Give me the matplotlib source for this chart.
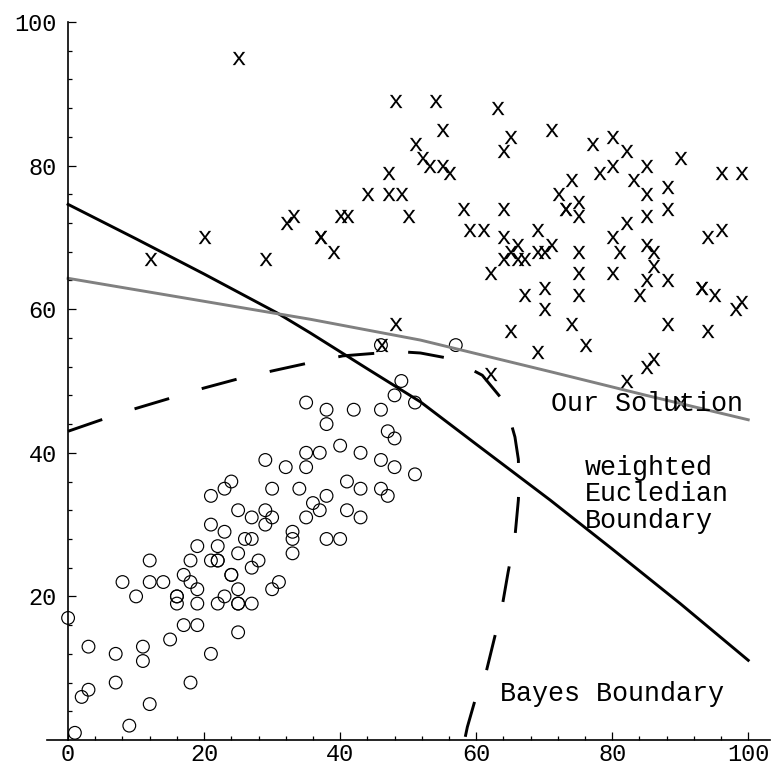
import numpy as np
import matplotlib
matplotlib.use("Agg")
import matplotlib.pyplot as plt
from matplotlib.textpath import TextPath
from matplotlib.font_manager import FontProperties
from matplotlib.path import Path

MONO = "Liberation Mono"

# class 1 samples (drawn as o)
class_o_x = [0, 1, 2, 3, 3, 7, 7, 8, 9, 10, 11, 11, 12, 12, 12, 14, 15, 16, 16, 16,
             17, 17, 18, 18, 18, 19, 19, 19, 19, 21, 21, 21, 21, 22, 22, 22, 22, 23, 23, 23,
             24, 24, 24, 25, 25, 25, 25, 25, 25, 26, 27, 27, 27, 27, 28, 29, 29, 29, 30, 30,
             30, 31, 32, 33, 33, 33, 34, 35, 35, 35, 35, 36, 37, 37, 38, 38, 38, 38, 40, 40,
             41, 41, 42, 43, 43, 43, 46, 46, 46, 46, 47, 47, 48, 48, 48, 49, 51, 51, 57]
class_o_y = [17, 1, 6, 7, 13, 8, 12, 22, 2, 20, 11, 13, 5, 22, 25, 22, 14, 19, 20, 20,
             16, 23, 8, 22, 25, 16, 19, 21, 27, 12, 25, 30, 34, 19, 25, 25, 27, 20, 29, 35,
             23, 23, 36, 15, 19, 19, 21, 26, 32, 28, 19, 24, 28, 31, 25, 30, 32, 39, 21, 31,
             35, 22, 38, 26, 28, 29, 35, 31, 38, 40, 47, 33, 32, 40, 28, 34, 44, 46, 28, 41,
             32, 36, 46, 31, 35, 40, 35, 39, 46, 55, 34, 43, 38, 42, 48, 50, 37, 47, 55]

# class 2 samples (drawn as x)
class_x_x = [25, 12, 20, 29, 32, 33, 37, 37, 39, 40, 41, 44, 47, 49, 47, 48, 54, 63, 55, 71,
             65, 64, 51, 52, 53, 55, 56, 50, 58, 64, 59, 61, 64, 69, 66, 71, 65, 69, 70, 64,
             66, 67, 62, 70, 67, 70, 48, 65, 69, 62, 46, 77, 80, 82, 90, 78, 80, 85, 74, 83,
             96, 99, 72, 85, 88, 73, 73, 75, 75, 88, 85, 82, 94, 96, 80, 75, 81, 85, 86, 86,
             75, 80, 85, 88, 84, 75, 93, 93, 95, 98, 99, 74, 88, 94, 76, 85, 86, 82, 90]
class_x_y = [95, 67, 70, 67, 72, 73, 70, 70, 68, 73, 73, 76, 76, 76, 79, 89, 89, 88, 85, 85,
             84, 82, 83, 81, 80, 80, 79, 73, 74, 74, 71, 71, 70, 71, 69, 69, 68, 68, 68, 67,
             67, 67, 65, 63, 62, 60, 58, 57, 54, 51, 55, 83, 84, 82, 81, 79, 80, 80, 78, 78,
             79, 79, 76, 76, 77, 74, 74, 75, 73, 74, 73, 72, 70, 71, 70, 68, 68, 69, 68, 66,
             65, 65, 64, 64, 62, 62, 63, 63, 62, 60, 61, 58, 58, 57, 55, 52, 53, 50, 47]

# decision boundaries
euclid_x = [0, 10, 20, 30.7, 35.6, 44, 51.8, 60, 70.9, 80, 90, 100]
euclid_y = [74.6, 69.8, 64.9, 59.5, 56.7, 51.7, 47.1, 41.2, 33.4, 26.6, 19.0, 11.1]

ours_x = [0, 10, 20, 35.6, 51.8, 70.9, 85, 100]
ours_y = [64.3, 62.7, 61.1, 58.6, 55.7, 51.3, 48.0, 44.6]

bayes_x = [0, 4.9, 9.7, 15, 19.9, 25, 30, 35.3, 40.4, 45.7, 48.5, 51.8, 56.3, 60.9, 64.3,
           65.7, 66.2, 66.3, 66.2, 65.7, 64.7, 63.8, 61.5, 60, 58.7, 58.3]
bayes_y = [43, 44.6, 46.1, 47.6, 49, 50.3, 51.4, 52.5, 53.5, 53.9, 54.1, 53.9, 53.1, 50.8, 46.9,
           42.2, 39.1, 35.5, 33.4, 28.3, 23.4, 18.5, 9.6, 6.1, 1.8, 0]


def glyph_marker(ch):
    # turn a typewriter glyph into a centred marker path
    tp = TextPath((0, 0), ch, size=10, prop=FontProperties(family=MONO))
    v = tp.vertices.copy()
    lo, hi = v.min(axis=0), v.max(axis=0)
    v -= (lo + hi) / 2
    return Path(v, tp.codes)


fig = plt.figure(figsize=(7.77, 7.71), dpi=100)
ax = fig.add_axes([47 / 777, 31 / 771, 723 / 777, 718 / 771])
ax.set_xlim(-3.1, 103.2)
ax.set_ylim(0, 100)

lw = 2.1
ax.plot(euclid_x, euclid_y, color="black", lw=lw)
ax.plot(ours_x, ours_y, color="#808080", lw=lw)
ax.plot(bayes_x, bayes_y, color="black", lw=lw, dashes=(26 / lw, 24.5 / lw))

ax.scatter(class_o_x, class_o_y, s=84, facecolors="none", edgecolors="black", linewidths=0.85)
ax.scatter(class_x_x, class_x_y, s=100, marker=glyph_marker("x"), color="black", linewidths=0)

ax.text(71, 46.8, "Our Solution", family=MONO, fontsize=19.3, va="center", ha="left")
ax.text(76, 34.2, "weighted\nEucledian\nBoundary", family=MONO, fontsize=19.3,
        va="center", ha="left", linespacing=1.03)
ax.text(63.5, 6.4, "Bayes Boundary", family=MONO, fontsize=19.3, va="center", ha="left")

# axes through the origin, ticks pointing inwards
for s in ("top", "right"):
    ax.spines[s].set_visible(False)
ax.spines["left"].set_position(("data", 0))
ax.spines["bottom"].set_position(("data", 0))
for s in ("left", "bottom"):
    ax.spines[s].set_linewidth(1.2)

ax.set_xticks(np.arange(0, 101, 20))
ax.set_yticks(np.arange(20, 101, 20))
minor = [t for t in np.arange(0, 101, 4) if t % 20]
ax.set_xticks(minor, minor=True)
ax.set_yticks(minor, minor=True)
ax.tick_params(which="both", direction="in", width=0.9, labelsize=17)
ax.tick_params(which="major", length=5.5)
ax.tick_params(which="minor", length=3)
ax.tick_params(axis="x", pad=2)
ax.tick_params(axis="y", pad=8)
for lab in ax.get_xticklabels() + ax.get_yticklabels():
    lab.set_family(MONO)

fig.savefig("out.png", dpi=100)
